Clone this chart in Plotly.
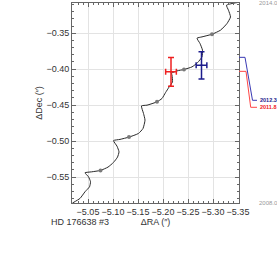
import plotly.graph_objects as go

# ---------------- data ----------------
# model track (parallax + proper motion), 2008.0 -> 2014.0
track_ra = [-5.019, -5.034, -5.044, -5.053, -5.055, -5.051, -5.044, -5.057, -5.075,
            -5.090, -5.101, -5.109, -5.112, -5.108, -5.101, -5.114, -5.132, -5.151,
            -5.160, -5.164, -5.161, -5.157, -5.168, -5.188, -5.198, -5.205, -5.212,
            -5.219, -5.218, -5.217, -5.228, -5.242, -5.258, -5.269, -5.278, -5.279,
            -5.274, -5.268, -5.278, -5.298, -5.315, -5.328, -5.335, -5.331, -5.327,
            -5.341, -5.352]
track_dec = [-0.586, -0.5796, -0.5704, -0.5635, -0.5565, -0.5496, -0.5440, -0.5427, -0.5407,
             -0.5361, -0.5296, -0.5222, -0.5149, -0.5070, -0.4993, -0.4976, -0.4944, -0.4893,
             -0.4824, -0.4708, -0.4615, -0.4510, -0.4500, -0.4454, -0.4407, -0.4326, -0.4250,
             -0.4176, -0.4083, -0.4056, -0.4024, -0.4004, -0.3968, -0.3910, -0.3829, -0.3736,
             -0.3643, -0.3569, -0.3551, -0.3514, -0.3458, -0.3365, -0.3274, -0.3181, -0.3111,
             -0.3083, -0.3070]
# yearly markers on the track (2009 ... 2013)
year_ra = [-5.075, -5.132, -5.188, -5.242, -5.298]
year_dec = [-0.5407, -0.4944, -0.4454, -0.4004, -0.3514]

# measurements
meas_epoch = [2011.8, 2012.3]
meas_label = ["2011.8", "2012.3"]
meas_ra = [-5.216, -5.277]
meas_dec = [-0.4037, -0.3947]
meas_ra_err = [0.0107, 0.0107]
meas_dec_err = [0.0199, 0.0188]

time_start = "2008.0"
time_end = "2014.0"
star_label = "HD 176638 #3"

# ---------------- styling / layout ----------------
W, H = 277, 269
ML, MR, MT, MB = 72, 19, 3, 66
plot_w = 239 - ML
paper_w = W - ML - MR
dx = plot_w / paper_w

meas_colors = ["#ee2020", "#1c1c8c"]
line_colors = ["#ff4646", "#3a3ab4"]
font_fam = "Liberation Sans, Arial, sans-serif"
axis_col = "#666666"
grid_col = "#e3e3e3"

t_range = [2007.10, 2014.24]          # hidden epoch scale beside the plot
label_paper_y = [0.4785, 0.5135]      # where the epoch labels sit (paper fraction)
knee1 = [7.0, 6.0]
knee2 = [11.7, 13.5]
x_end = 18.0

fig = go.Figure()

fig.add_trace(go.Scatter(
    x=track_ra, y=track_dec, mode="lines",
    line=dict(color="#2a2a2a", width=1, shape="spline", smoothing=0.5),
    hoverinfo="skip", showlegend=False))
fig.add_trace(go.Scatter(
    x=year_ra, y=year_dec, mode="markers",
    marker=dict(color="#7a7a7a", size=4),
    hoverinfo="skip", showlegend=False))

for i in range(len(meas_ra)):
    fig.add_trace(go.Scatter(
        x=[meas_ra[i]], y=[meas_dec[i]], mode="markers",
        marker=dict(color=meas_colors[i], size=2),
        error_x=dict(type="data", array=[meas_ra_err[i]], color=meas_colors[i],
                     thickness=1.5, width=3),
        error_y=dict(type="data", array=[meas_dec_err[i]], color=meas_colors[i],
                     thickness=1.5, width=3),
        showlegend=False))

# epoch connectors on the side scale
for i in range(len(meas_epoch)):
    t_lab = t_range[0] + label_paper_y[i] * (t_range[1] - t_range[0])
    fig.add_trace(go.Scatter(
        x=[0, knee1[i], knee2[i], x_end],
        y=[meas_epoch[i], meas_epoch[i], t_lab, t_lab],
        xaxis="x2", yaxis="y2", mode="lines",
        line=dict(color=line_colors[i], width=1),
        hoverinfo="skip", showlegend=False))
    fig.add_annotation(
        x=x_end + 0.6, y=t_lab, xref="x2", yref="y2", text="<b>" + meas_label[i] + "</b>",
        showarrow=False, xanchor="left", yanchor="middle",
        font=dict(family=font_fam, size=5.5, color=meas_colors[i]))

fig.add_annotation(x=1, y=1, xref="paper", yref="paper", text=time_end,
                   showarrow=False, xanchor="left", yanchor="middle", xshift=-1,
                   font=dict(family=font_fam, size=6, color="#999999"))
fig.add_annotation(x=1, y=0, xref="paper", yref="paper", text=time_start,
                   showarrow=False, xanchor="left", yanchor="middle", xshift=-1,
                   font=dict(family=font_fam, size=6, color="#999999"))
fig.add_annotation(x=(49 - ML) / paper_w, y=-0.0935, xref="paper", yref="paper",
                   text=star_label, showarrow=False, xanchor="left", yanchor="middle",
                   font=dict(family=font_fam, size=9, color="#333333"))

axis_common = dict(
    showline=True, linecolor=axis_col, linewidth=1, mirror="allticks",
    ticks="inside", ticklen=4, tickcolor=axis_col, tickwidth=1,
    showgrid=True, gridcolor=grid_col, gridwidth=1, zeroline=False,
    tickfont=dict(family=font_fam, size=9, color="#333333"),
    tickformat=".2f",
)

fig.update_layout(
    width=W, height=H,
    margin=dict(l=ML, r=MR, t=MT, b=MB, pad=0),
    paper_bgcolor="white", plot_bgcolor="white",
    font=dict(family=font_fam, size=9, color="#333333"),
    xaxis=dict(domain=[0, dx], range=[-5.018, -5.352], dtick=0.05, tick0=-5.0,
               minor=dict(dtick=0.01, ticks="inside", ticklen=2, tickcolor=axis_col,
                          showgrid=False),
               title=dict(text="ΔRA (″)", standoff=2,
                          font=dict(family=font_fam, size=9, color="#333333")),
               **axis_common),
    yaxis=dict(range=[-0.586, -0.308], dtick=0.05, tick0=-0.4,
               minor=dict(dtick=0.01, ticks="inside", ticklen=2, tickcolor=axis_col,
                          showgrid=False),
               title=dict(text="ΔDec (″)", standoff=2,
                          font=dict(family=font_fam, size=9, color="#333333")),
               **axis_common),
    xaxis2=dict(domain=[dx, 1], range=[0, 19], visible=False, anchor="y2"),
    yaxis2=dict(domain=[0, 1], range=t_range, visible=False, anchor="x2"),
)

fig.write_html("out.html", config={"displayModeBar": False, "staticPlot": True},
               post_script="document.body.style.margin='0px';document.body.style.overflow='hidden';")
